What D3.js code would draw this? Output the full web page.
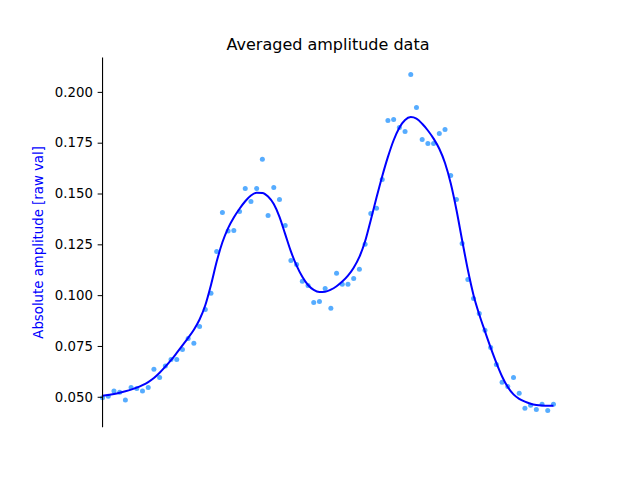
<!DOCTYPE html>
<html>
<head>
<meta charset="utf-8">
<script src="https://cdn.jsdelivr.net/npm/d3@7"></script>
<style>
  body { margin: 0; background: #fff; }
  text { font-family: "DejaVu Sans", sans-serif; }
</style>
</head>
<body>
<div id="chart"></div>
<script>
// averaged amplitude, one value per sample
var amplitude = [
  0.0495, 0.0503, 0.0528, 0.0522, 0.0484, 0.0546, 0.0541, 0.0528, 0.0546, 0.0635,
  0.0595, 0.0651, 0.0684, 0.0684, 0.0733, 0.0787, 0.0763, 0.0846, 0.0930, 0.1009,
  0.1215, 0.1407, 0.1315, 0.1318, 0.1412, 0.1525, 0.1461, 0.1525, 0.1669, 0.1392,
  0.1530, 0.1471, 0.1343, 0.1171, 0.1151, 0.1068, 0.1048, 0.0964, 0.0969, 0.1033,
  0.0935, 0.1108, 0.1053, 0.1053, 0.1082, 0.1127, 0.1250, 0.1402, 0.1427, 0.1569,
  0.1859, 0.1864, 0.1825, 0.1805, 0.2086, 0.1923, 0.1766, 0.1746, 0.1746, 0.1795,
  0.1815, 0.1589, 0.1471, 0.1254, 0.1077, 0.0984, 0.0910, 0.0827, 0.0743, 0.0659,
  0.0571, 0.0551, 0.0595, 0.0517, 0.0443, 0.0458, 0.0438, 0.0463, 0.0433, 0.0463
];

// smoothed fit, same sample positions
var fitted = [
  0.0505, 0.0509, 0.0514, 0.0520, 0.0527, 0.0535, 0.0545, 0.0557, 0.0572, 0.0592,
  0.0618, 0.0648, 0.0680, 0.0716, 0.0753, 0.0790, 0.0830, 0.0880, 0.0950, 0.1050,
  0.1165, 0.1260, 0.1330, 0.1382, 0.1425, 0.1462, 0.1490, 0.1504, 0.1503, 0.1485,
  0.1448, 0.1385, 0.1300, 0.1215, 0.1145, 0.1090, 0.1050, 0.1026, 0.1016, 0.1017,
  0.1027, 0.1044, 0.1067, 0.1096, 0.1135, 0.1188, 0.1265, 0.1370, 0.1480, 0.1585,
  0.1680, 0.1762, 0.1824, 0.1862, 0.1876, 0.1868, 0.1843, 0.1810, 0.1770, 0.1720,
  0.1650, 0.1550, 0.1420, 0.1270, 0.1125, 0.1000, 0.0905, 0.0822, 0.0742, 0.0667,
  0.0600, 0.0548, 0.0512, 0.0490, 0.0476, 0.0466, 0.0460, 0.0457, 0.0456, 0.0456
];

var yTicks = [0.050, 0.075, 0.100, 0.125, 0.150, 0.175, 0.200];

var titleText = "Averaged amplitude data";
var yLabel = "Absolute amplitude [raw val]";

var W = 640, H = 480;
var margin = {top: 57.6, right: 64, bottom: 52.8, left: 80};

var svg = d3.select("#chart").append("svg")
  .attr("width", W)
  .attr("height", H);

// matplotlib style autoscale with 5% padding
var n = amplitude.length;
var x = d3.scaleLinear()
  .domain([-0.05 * (n - 1), 1.05 * (n - 1)])
  .range([margin.left, W - margin.right]);

var all = amplitude.concat(fitted);
var lo = d3.min(all), hi = d3.max(all);
var pad = (hi - lo) * 0.05;
var y = d3.scaleLinear()
  .domain([lo - pad, hi + pad])
  .range([H - margin.bottom, margin.top]);

// scatter of raw averages
svg.append("g")
  .selectAll("circle")
  .data(amplitude)
  .enter().append("circle")
    .attr("cx", function(d, i) { return x(i); })
    .attr("cy", function(d) { return y(d); })
    .attr("r", 2.5)
    .attr("fill", "#1e90ff")
    .attr("fill-opacity", 0.75);

// fitted curve on top
var line = d3.line()
  .curve(d3.curveMonotoneX)
  .x(function(d, i) { return x(i); })
  .y(function(d) { return y(d); });

svg.append("path")
  .datum(fitted)
  .attr("fill", "none")
  .attr("stroke", "#0000ff")
  .attr("stroke-width", 2)
  .attr("d", line);

// left spine sits at the first sample, bottom spine hidden
var yAxis = d3.axisLeft(y)
  .tickValues(yTicks)
  .tickFormat(d3.format(".3f"))
  .tickSize(4.9)
  .tickPadding(4.7);

var axisG = svg.append("g")
  .attr("transform", "translate(" + x(0) + ",0)")
  .call(yAxis);

axisG.select(".domain").remove();
axisG.selectAll(".tick line").attr("stroke", "#000").attr("stroke-width", 1);
axisG.selectAll(".tick text")
  .attr("fill", "#000")
  .style("font-size", "13.3px")
  .style("font-family", "DejaVu Sans, sans-serif");

svg.append("line")
  .attr("x1", x(0)).attr("x2", x(0))
  .attr("y1", margin.top).attr("y2", H - margin.bottom)
  .attr("stroke", "#000")
  .attr("stroke-width", 1.1);

// title
svg.append("text")
  .attr("x", (margin.left + W - margin.right) / 2)
  .attr("y", margin.top - 8)
  .attr("text-anchor", "middle")
  .style("font-size", "16px")
  .text(titleText);

// y label in blue
svg.append("text")
  .attr("transform", "translate(43," + ((margin.top + H - margin.bottom) / 2) + ") rotate(-90)")
  .attr("text-anchor", "middle")
  .attr("fill", "#0000ff")
  .style("font-size", "13.3px")
  .text(yLabel);
</script>
</body>
</html>
